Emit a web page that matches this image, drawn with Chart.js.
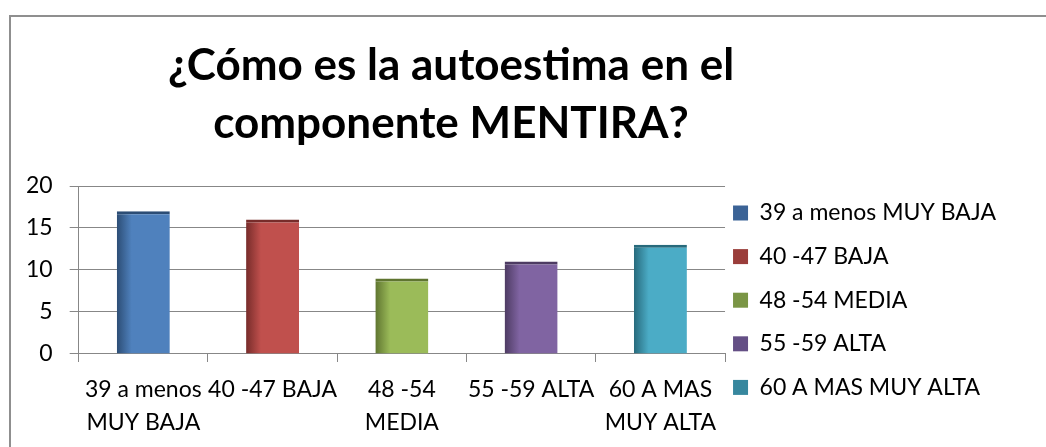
<!DOCTYPE html>
<html>
<head>
<meta charset="utf-8">
<title>Autoestima - componente MENTIRA</title>
<script src="https://cdn.jsdelivr.net/npm/chart.js@4.4.1/dist/chart.umd.min.js"></script>
<style>
  html, body { margin: 0; padding: 0; background: #fff; }
  #wrap { position: relative; width: 1046px; height: 447px; overflow: hidden; }
  #frame { position: absolute; left: 9px; top: 15px; width: 1100px; height: 500px; border-left: 2px solid #8f8f8f; border-top: 2px solid #8f8f8f; }
  #chart { position: absolute; left: 0; top: 0; }
</style>
</head>
<body>
<div id="wrap">
  <div id="frame"></div>
  <canvas id="chart" width="1046" height="447"></canvas>
</div>
<script>
const titleLines = ['¿Cómo es la autoestima en el', 'componente MENTIRA?'];
const categories = [['39 a menos', 'MUY BAJA'], '40 -47 BAJA', ['48 -54', 'MEDIA'], '55 -59 ALTA', ['60 A MAS', 'MUY ALTA']];
const legendNames = ['39 a menos MUY BAJA', '40 -47 BAJA', '48 -54 MEDIA', '55 -59 ALTA', '60 A MAS MUY ALTA'];
const counts = [17, 16, 9, 11, 13];
const yTicks = [0, 5, 10, 15, 20];

const baseColors = ['#4f81bd', '#c0504d', '#9bbb59', '#8064a2', '#4bacc6'];
const darkColors = ['#2c4d75', '#772c2a', '#5f7530', '#4d3b62', '#276a7c'];
const legendColors = ['#3b6396', '#9a3d3a', '#7a9545', '#644f85', '#37879e'];

const GRID = '#878787';
const BAR_PCT = 0.41;
const FONT_SIZE = 23;

Chart.defaults.font.family = 'Lato';

// left edge of each bar shaded darker, like the Excel "3D" bar look
function barFill(context) {
    const i = context.dataIndex;
    const chart = context.chart;
    const xs = chart.scales.x;
    if (i === undefined || !chart.chartArea || !xs) return baseColors[0];
    const center = xs.getPixelForValue(i);
    const half = (xs.width / categories.length) * BAR_PCT / 2;
    const g = chart.ctx.createLinearGradient(center - half, 0, center + half, 0);
    g.addColorStop(0, darkColors[i]);
    g.addColorStop(0.28, baseColors[i]);
    g.addColorStop(1, baseColors[i]);
    return g;
}

const titlePlugin = {
    id: 'twoLineTitle',
    afterDraw(chart) {
        const ctx = chart.ctx;
        ctx.save();
        ctx.font = 'bold 44px Lato';
        ctx.fillStyle = '#000';
        ctx.textAlign = 'center';
        ctx.textBaseline = 'alphabetic';
        ctx.fillText(titleLines[0], 451, 80);
        ctx.fillText(titleLines[1], 451, 138);
        ctx.restore();
    }
};

new Chart(document.getElementById('chart'), {
    type: 'bar',
    data: {
        labels: categories,
        datasets: [{
            data: counts,
            backgroundColor: barFill,
            borderColor: darkColors,
            borderWidth: { top: 3, left: 0, right: 0, bottom: 0 },
            borderSkipped: false,
            barPercentage: BAR_PCT,
            categoryPercentage: 1
        }]
    },
    options: {
        responsive: false,
        animation: false,
        layout: { padding: { top: 186, left: 9, right: 40, bottom: -3 } },
        plugins: {
            tooltip: { enabled: false },
            legend: {
                position: 'right',
                align: 'start',
                maxWidth: 340,
                // empty title only used as a small spacer above the first row
                title: { display: true, text: '', font: { size: 1, lineHeight: 1 }, padding: { top: 0, bottom: 6.5 } },
                labels: {
                    boxWidth: 15,
                    boxHeight: 15,
                    padding: 8,
                    color: '#000',
                    font: { size: FONT_SIZE, lineHeight: 1.548 },
                    generateLabels: () => legendNames.map((name, i) => ({
                        text: [name],
                        fillStyle: legendColors[i],
                        strokeStyle: legendColors[i],
                        lineWidth: 0,
                        hidden: false,
                        index: i,
                        fontColor: '#000'
                    }))
                }
            }
        },
        scales: {
            x: {
                grid: { offset: true, drawOnChartArea: false, drawTicks: true, tickLength: 8, color: GRID },
                border: { color: GRID },
                ticks: {
                    color: '#000',
                    padding: 11,
                    maxRotation: 0,
                    autoSkip: false,
                    font: { size: FONT_SIZE, lineHeight: 1.435 }
                }
            },
            y: {
                min: 0,
                max: 20,
                afterBuildTicks: scale => { scale.ticks = yTicks.map(v => ({ value: v })); },
                grid: { color: GRID, tickLength: 9 },
                border: { color: GRID },
                ticks: { color: '#000', padding: 17, font: { size: FONT_SIZE } }
            }
        }
    },
    plugins: [titlePlugin]
});
</script>
</body>
</html>
